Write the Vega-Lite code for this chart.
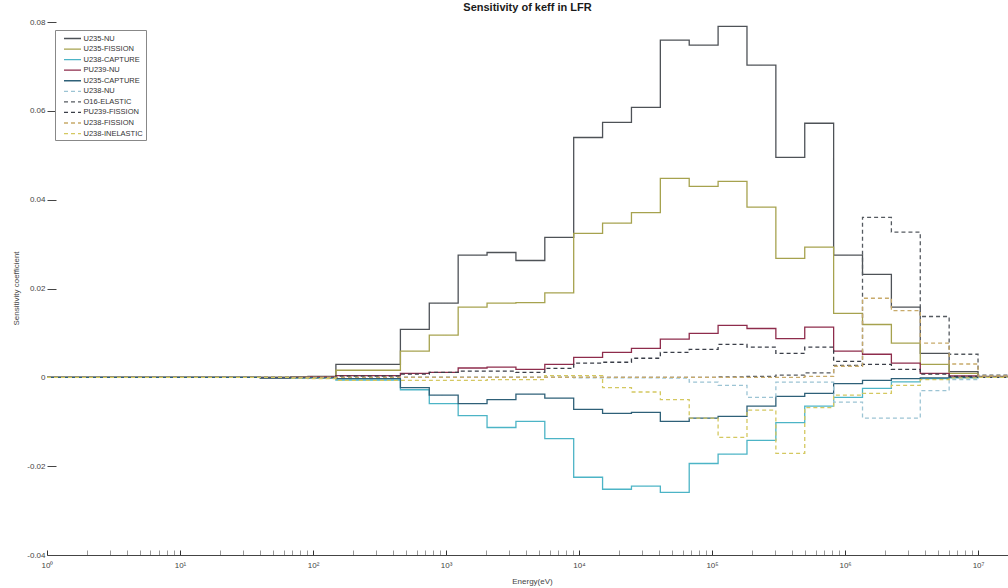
{
  "$schema": "https://vega.github.io/schema/vega-lite/v6.json",
  "width": 961,
  "height": 533,
  "autosize": {"type": "none"},
  "padding": {"left": 47, "top": 22, "right": 0, "bottom": 33},
  "background": "white",
  "title": {"text": "Sensitivity of keff in LFR", "fontSize": 11, "fontWeight": "bold", "font": "Liberation Sans", "color": "#1a1a1a", "offset": 5},
  "data": {"values": [
    {"E": 1, "U235-NU": 0, "U235-FISSION": 0, "U238-CAPTURE": 0, "PU239-NU": 0, "U235-CAPTURE": 0, "U238-NU": 0, "O16-ELASTIC": 0, "PU239-FISSION": 0, "U238-FISSION": 0, "U238-INELASTIC": 0},
    {"E": 4, "U235-NU": 0, "U235-FISSION": 0, "U238-CAPTURE": 0, "PU239-NU": 0, "U235-CAPTURE": 0, "U238-NU": 0, "O16-ELASTIC": 0, "PU239-FISSION": 0, "U238-FISSION": 0, "U238-INELASTIC": 0},
    {"E": 8.3153, "U235-NU": 0, "U235-FISSION": 0, "U238-CAPTURE": 0, "PU239-NU": 0, "U235-CAPTURE": 0, "U238-NU": 0, "O16-ELASTIC": 0, "PU239-FISSION": 0, "U238-FISSION": 0, "U238-INELASTIC": 0},
    {"E": 13.71, "U235-NU": 0, "U235-FISSION": 0, "U238-CAPTURE": 0, "PU239-NU": 0, "U235-CAPTURE": 0, "U238-NU": 0, "O16-ELASTIC": 0, "PU239-FISSION": 0, "U238-FISSION": 0, "U238-INELASTIC": 0},
    {"E": 22.603, "U235-NU": 0, "U235-FISSION": 0, "U238-CAPTURE": 0, "PU239-NU": 0, "U235-CAPTURE": 0, "U238-NU": 0, "O16-ELASTIC": 0, "PU239-FISSION": 0, "U238-FISSION": 0, "U238-INELASTIC": 0},
    {"E": 40.169, "U235-NU": -0.0002, "U235-FISSION": 0, "U238-CAPTURE": 0, "PU239-NU": 0, "U235-CAPTURE": -0.0001, "U238-NU": 0, "O16-ELASTIC": 0, "PU239-FISSION": 0, "U238-FISSION": 0, "U238-INELASTIC": 0},
    {"E": 67.904, "U235-NU": 0.0001, "U235-FISSION": 0, "U238-CAPTURE": -0.0001, "PU239-NU": 0, "U235-CAPTURE": -0.0001, "U238-NU": 0, "O16-ELASTIC": 0, "PU239-FISSION": 0, "U238-FISSION": 0, "U238-INELASTIC": -0.0002},
    {"E": 91.661, "U235-NU": 0.0002, "U235-FISSION": 0.0001, "U238-CAPTURE": -0.0001, "PU239-NU": 0.0001, "U235-CAPTURE": -0.0001, "U238-NU": 0, "O16-ELASTIC": 0, "PU239-FISSION": 0, "U238-FISSION": 0, "U238-INELASTIC": -0.0003},
    {"E": 148.63, "U235-NU": 0.0029, "U235-FISSION": 0.0016, "U238-CAPTURE": -0.0006, "PU239-NU": 0.0004, "U235-CAPTURE": -0.0003, "U238-NU": 0, "O16-ELASTIC": 0, "PU239-FISSION": 0.0003, "U238-FISSION": 0, "U238-INELASTIC": -0.0007},
    {"E": 304.33, "U235-NU": 0.0029, "U235-FISSION": 0.0016, "U238-CAPTURE": -0.0006, "PU239-NU": 0.0004, "U235-CAPTURE": -0.0003, "U238-NU": 0, "O16-ELASTIC": 0, "PU239-FISSION": 0.0003, "U238-FISSION": 0, "U238-INELASTIC": -0.0007},
    {"E": 454.0, "U235-NU": 0.0108, "U235-FISSION": 0.0059, "U238-CAPTURE": -0.0028, "PU239-NU": 0.0009, "U235-CAPTURE": -0.0023, "U238-NU": 0, "O16-ELASTIC": 0, "PU239-FISSION": 0.0007, "U238-FISSION": 0, "U238-INELASTIC": -0.0007},
    {"E": 748.52, "U235-NU": 0.0167, "U235-FISSION": 0.0095, "U238-CAPTURE": -0.0059, "PU239-NU": 0.0011, "U235-CAPTURE": -0.004, "U238-NU": 0, "O16-ELASTIC": 0, "PU239-FISSION": 0.0011, "U238-FISSION": 0, "U238-INELASTIC": -0.0007},
    {"E": 1234.1, "U235-NU": 0.0275, "U235-FISSION": 0.0158, "U238-CAPTURE": -0.0086, "PU239-NU": 0.0021, "U235-CAPTURE": -0.0059, "U238-NU": 0, "O16-ELASTIC": 0, "PU239-FISSION": 0.0014, "U238-FISSION": 0, "U238-INELASTIC": -0.0007},
    {"E": 2034.7, "U235-NU": 0.0281, "U235-FISSION": 0.0167, "U238-CAPTURE": -0.0113, "PU239-NU": 0.0023, "U235-CAPTURE": -0.005, "U238-NU": 0, "O16-ELASTIC": 0, "PU239-FISSION": 0.0014, "U238-FISSION": 0, "U238-INELASTIC": -0.0005},
    {"E": 3354.6, "U235-NU": 0.0263, "U235-FISSION": 0.0168, "U238-CAPTURE": -0.0099, "PU239-NU": 0.0018, "U235-CAPTURE": -0.0038, "U238-NU": 0, "O16-ELASTIC": 0, "PU239-FISSION": 0.0011, "U238-FISSION": 0, "U238-INELASTIC": -0.0005},
    {"E": 5530.8, "U235-NU": 0.0315, "U235-FISSION": 0.019, "U238-CAPTURE": -0.0138, "PU239-NU": 0.0029, "U235-CAPTURE": -0.0047, "U238-NU": 0, "O16-ELASTIC": 0, "PU239-FISSION": 0.002, "U238-FISSION": 0, "U238-INELASTIC": 0.0004},
    {"E": 9118.8, "U235-NU": 0.054, "U235-FISSION": 0.0324, "U238-CAPTURE": -0.0225, "PU239-NU": 0.0045, "U235-CAPTURE": -0.0072, "U238-NU": -0.0001, "O16-ELASTIC": 0, "PU239-FISSION": 0.0032, "U238-FISSION": 0, "U238-INELASTIC": 0.0004},
    {"E": 15034, "U235-NU": 0.0574, "U235-FISSION": 0.0347, "U238-CAPTURE": -0.0252, "PU239-NU": 0.0056, "U235-CAPTURE": -0.0081, "U238-NU": -0.0001, "O16-ELASTIC": 0, "PU239-FISSION": 0.0034, "U238-FISSION": 0, "U238-INELASTIC": -0.0023},
    {"E": 24788, "U235-NU": 0.0608, "U235-FISSION": 0.0371, "U238-CAPTURE": -0.0245, "PU239-NU": 0.0065, "U235-CAPTURE": -0.0079, "U238-NU": -0.0001, "O16-ELASTIC": 0, "PU239-FISSION": 0.0043, "U238-FISSION": 0, "U238-INELASTIC": -0.0033},
    {"E": 40868, "U235-NU": 0.0759, "U235-FISSION": 0.0448, "U238-CAPTURE": -0.0259, "PU239-NU": 0.0086, "U235-CAPTURE": -0.0099, "U238-NU": -0.0002, "O16-ELASTIC": 0, "PU239-FISSION": 0.0056, "U238-FISSION": 0, "U238-INELASTIC": -0.005},
    {"E": 67379, "U235-NU": 0.0748, "U235-FISSION": 0.043, "U238-CAPTURE": -0.0194, "PU239-NU": 0.0099, "U235-CAPTURE": -0.0092, "U238-NU": -0.0011, "O16-ELASTIC": 0, "PU239-FISSION": 0.0063, "U238-FISSION": 0, "U238-INELASTIC": -0.0092},
    {"E": 111090, "U235-NU": 0.079, "U235-FISSION": 0.0441, "U238-CAPTURE": -0.0173, "PU239-NU": 0.0117, "U235-CAPTURE": -0.0088, "U238-NU": -0.0018, "O16-ELASTIC": 0.0001, "PU239-FISSION": 0.0074, "U238-FISSION": 0, "U238-INELASTIC": -0.0135},
    {"E": 183160, "U235-NU": 0.0703, "U235-FISSION": 0.0383, "U238-CAPTURE": -0.0142, "PU239-NU": 0.011, "U235-CAPTURE": -0.0065, "U238-NU": -0.0045, "O16-ELASTIC": 0.0002, "PU239-FISSION": 0.0068, "U238-FISSION": 0, "U238-INELASTIC": -0.0074},
    {"E": 301970, "U235-NU": 0.0495, "U235-FISSION": 0.0268, "U238-CAPTURE": -0.0102, "PU239-NU": 0.0087, "U235-CAPTURE": -0.0043, "U238-NU": -0.0011, "O16-ELASTIC": 0.0005, "PU239-FISSION": 0.0054, "U238-FISSION": 0, "U238-INELASTIC": -0.0171},
    {"E": 497870, "U235-NU": 0.0572, "U235-FISSION": 0.0293, "U238-CAPTURE": -0.0065, "PU239-NU": 0.0113, "U235-CAPTURE": -0.0036, "U238-NU": -0.0011, "O16-ELASTIC": 0.001, "PU239-FISSION": 0.0068, "U238-FISSION": 0.0002, "U238-INELASTIC": -0.0068},
    {"E": 820850, "U235-NU": 0.0275, "U235-FISSION": 0.0144, "U238-CAPTURE": -0.0045, "PU239-NU": 0.0059, "U235-CAPTURE": -0.0014, "U238-NU": -0.0056, "O16-ELASTIC": 0.0027, "PU239-FISSION": 0.0036, "U238-FISSION": 0.0025, "U238-INELASTIC": -0.004},
    {"E": 1353400, "U235-NU": 0.0232, "U235-FISSION": 0.0119, "U238-CAPTURE": -0.0025, "PU239-NU": 0.0052, "U235-CAPTURE": -0.0007, "U238-NU": -0.0092, "O16-ELASTIC": 0.036, "PU239-FISSION": 0.0029, "U238-FISSION": 0.0178, "U238-INELASTIC": -0.0036},
    {"E": 2231300, "U235-NU": 0.0158, "U235-FISSION": 0.0077, "U238-CAPTURE": -0.001, "PU239-NU": 0.0032, "U235-CAPTURE": -0.0003, "U238-NU": -0.0092, "O16-ELASTIC": 0.0327, "PU239-FISSION": 0.0018, "U238-FISSION": 0.015, "U238-INELASTIC": -0.0018},
    {"E": 3678800, "U235-NU": 0.0054, "U235-FISSION": 0.0029, "U238-CAPTURE": -0.0003, "PU239-NU": 0.0009, "U235-CAPTURE": -0.0001, "U238-NU": -0.003, "O16-ELASTIC": 0.0137, "PU239-FISSION": 0.0007, "U238-FISSION": 0.0077, "U238-INELASTIC": -0.0005},
    {"E": 6065300, "U235-NU": 0.0013, "U235-FISSION": 0.0009, "U238-CAPTURE": -0.0001, "PU239-NU": 0.0003, "U235-CAPTURE": 0, "U238-NU": -0.0005, "O16-ELASTIC": 0.0052, "PU239-FISSION": 0.0002, "U238-FISSION": 0.003, "U238-INELASTIC": -0.0001},
    {"E": 10000000, "U235-NU": 0.0002, "U235-FISSION": 0.0001, "U238-CAPTURE": 0, "PU239-NU": 0.0001, "U235-CAPTURE": 0, "U238-NU": 0, "O16-ELASTIC": 0.0005, "PU239-FISSION": 0, "U238-FISSION": 0.0003, "U238-INELASTIC": 0},
    {"E": 19640000, "U235-NU": 0.0002, "U235-FISSION": 0.0001, "U238-CAPTURE": 0, "PU239-NU": 0.0001, "U235-CAPTURE": 0, "U238-NU": 0, "O16-ELASTIC": 0.0005, "PU239-FISSION": 0, "U238-FISSION": 0.0003, "U238-INELASTIC": 0}
  ]},
  "transform": [
    {"fold": ["U235-NU", "U235-FISSION", "U238-CAPTURE", "PU239-NU", "U235-CAPTURE", "U238-NU", "O16-ELASTIC", "PU239-FISSION", "U238-FISSION", "U238-INELASTIC"], "as": ["series", "S"]}
  ],
  "mark": {"type": "line", "interpolate": "step-after", "strokeWidth": 1.3, "clip": true},
  "encoding": {
    "x": {
      "field": "E", "type": "quantitative",
      "scale": {"type": "log", "domain": [1, 16800000], "nice": false},
      "axis": {
        "values": [1,2,3,4,5,6,7,8,9,10,20,30,40,50,60,70,80,90,100,200,300,400,500,600,700,800,900,1000,2000,3000,4000,5000,6000,7000,8000,9000,10000,20000,30000,40000,50000,60000,70000,80000,90000,100000,200000,300000,400000,500000,600000,700000,800000,900000,1000000,2000000,3000000,4000000,5000000,6000000,7000000,8000000,9000000,10000000],
        "labelExpr": "abs(log(datum.value)/LN10 - round(log(datum.value)/LN10)) < 0.001 ? '10' + substring('⁰¹²³⁴⁵⁶⁷', round(log(datum.value)/LN10), round(log(datum.value)/LN10) + 1) : ''",
        "tickSize": -5,
        "labelPadding": 11,
        "domainColor": "#444",
        "tickColor": {"condition": {"test": "abs(log(datum.value)/LN10 - round(log(datum.value)/LN10)) < 0.001", "value": "#333"}, "value": "#999"},
        "labelFontSize": 8,
        "labelColor": "#444",
        "labelFont": "Liberation Sans",
        "labelOverlap": false,
        "labelFlush": false,
        "grid": false,
        "title": "Energy(eV)",
        "titleFont": "Liberation Sans",
        "titleFontSize": 8,
        "titleFontWeight": "normal",
        "titleColor": "#444",
        "titleX": 485,
        "titleY": 28,
        "titleBaseline": "alphabetic"
      }
    },
    "y": {
      "field": "S", "type": "quantitative",
      "scale": {"domain": [-0.04, 0.08], "nice": false, "zero": false},
      "axis": {
        "values": [-0.04, -0.02, 0, 0.02, 0.04, 0.06, 0.08],
        "labelExpr": "datum.value == 0 ? '0' : replace(format(datum.value, '.2f'), '−', '-')",
        "domain": false,
        "tickSize": -9,
        "labelPadding": 11,
        "tickColor": "#444",
        "labelFontSize": 8,
        "labelColor": "#444",
        "labelFont": "Liberation Sans",
        "grid": false,
        "title": "Sensitivity coefficient",
        "titleFont": "Liberation Sans",
        "titleFontSize": 8,
        "titleFontWeight": "normal",
        "titleColor": "#444",
        "titleX": -31,
        "titleY": 266,
        "titleBaseline": "middle"
      }
    },
    "color": {
      "field": "series", "type": "nominal",
      "scale": {
        "domain": ["U235-NU", "U235-FISSION", "U238-CAPTURE", "PU239-NU", "U235-CAPTURE", "U238-NU", "O16-ELASTIC", "PU239-FISSION", "U238-FISSION", "U238-INELASTIC"],
        "range": ["#4e5257", "#a6a24e", "#4cb4c6", "#8e2c4c", "#2e6078", "#9cc4d4", "#555a60", "#3a3e48", "#c8aa6a", "#d4c860"]
      },
      "legend": {"title": null}
    },
    "strokeDash": {
      "field": "series", "type": "nominal",
      "scale": {
        "domain": ["U235-NU", "U235-FISSION", "U238-CAPTURE", "PU239-NU", "U235-CAPTURE", "U238-NU", "O16-ELASTIC", "PU239-FISSION", "U238-FISSION", "U238-INELASTIC"],
        "range": [[1, 0], [1, 0], [1, 0], [1, 0], [1, 0], [4, 3], [4, 3], [4, 3], [4, 3], [4, 3]]
      },
      "legend": {"title": null}
    }
  },
  "config": {
    "view": {"stroke": null},
    "legend": {
      "orient": "none",
      "legendX": 8,
      "legendY": 8,
      "padding": 2.5,
      "strokeColor": "#888",
      "fillColor": "white",
      "labelFont": "Liberation Sans",
      "labelFontSize": 7.5,
      "labelColor": "#333",
      "symbolType": "M0.1,0L3.5,0",
      "symbolSize": 100,
      "symbolStrokeWidth": 1.3,
      "symbolFillColor": "transparent",
      "rowPadding": 0.56,
      "labelOffset": 14
    }
  }
}
